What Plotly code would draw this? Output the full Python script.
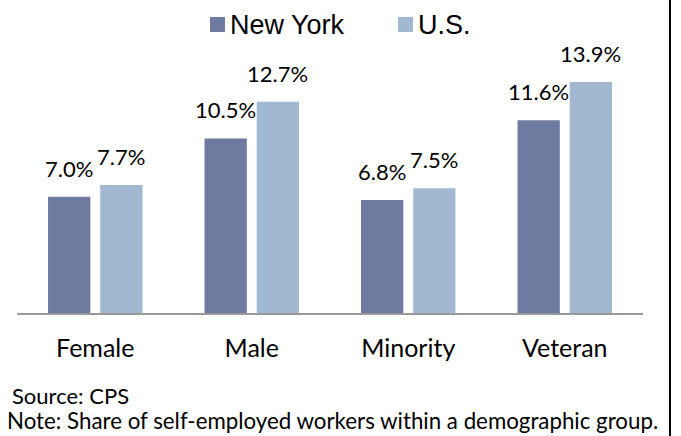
import plotly.graph_objects as go

categories = ["Female", "Male", "Minority", "Veteran"]
new_york = [7.0, 10.5, 6.8, 11.6]
us = [7.7, 12.7, 7.5, 13.9]
series_names = ["New York", "U.S."]
colors = ["#6F7AA1", "#A1B8D0"]
source_text = "Source: CPS"
note_text = "Note: Share of self-employed workers within a demographic group."

BODY_FONT = "Lato, 'Open Sans', sans-serif"
LEGEND_FONT = "'Liberation Sans', Arial, sans-serif"

W, H = 681, 436
ML, MR, MT, MB = 17, 38, 47, 123
plot_h = H - MT - MB
plot_w = W - ML - MR
BAR_OFFSET = 26  # px, half of a bar slot within a group

def px_to_paper_y(py):
    return (H - MB - py) / plot_h

def px_to_paper_x(px):
    return (px - ML) / plot_w

fig = go.Figure()
for name, vals, col, sgn in zip(series_names, [new_york, us], colors, [-1, 1]):
    fig.add_trace(go.Bar(
        x=categories, y=vals, name=name, marker_color=col,
        marker_line_width=0, showlegend=False, hoverinfo="skip",
    ))
    for c, v in zip(categories, vals):
        fig.add_annotation(x=c, y=v, xref="x", yref="y", text=f"{v:.1f}%",
                           xshift=sgn * BAR_OFFSET, yshift=13,
                           xanchor="center", yanchor="bottom", showarrow=False,
                           font=dict(family=BODY_FONT, size=22, color="#000"))

# legend (manual, to match the reference spacing)
legend_items = [(series_names[0], colors[0], 210), (series_names[1], colors[1], 398)]
for name, col, x0 in legend_items:
    fig.add_shape(type="rect", xref="paper", yref="paper",
                  x0=px_to_paper_x(x0), x1=px_to_paper_x(x0 + 15),
                  y0=px_to_paper_y(32), y1=px_to_paper_y(17),
                  fillcolor=col, line_width=0)
    fig.add_annotation(text=name, xref="paper", yref="paper",
                       x=px_to_paper_x(x0 + 18), y=px_to_paper_y(25),
                       xanchor="left", yanchor="middle", showarrow=False,
                       font=dict(family=LEGEND_FONT, size=27, color="#000"))

fig.update_layout(
    width=W, height=H,
    margin=dict(l=ML, r=MR, t=MT, b=MB, autoexpand=False),
    paper_bgcolor="white", plot_bgcolor="white",
    barmode="group", bargap=0.333, bargroupgap=0.19,
    showlegend=False,
    xaxis=dict(showline=True, linecolor="#999999", linewidth=2, automargin=False,
               ticks="", ticklabelstandoff=12,
               tickfont=dict(family=BODY_FONT, size=25, color="#000")),
    yaxis=dict(range=[0, 16], visible=False, showgrid=False, zeroline=False,
               automargin=False),
)

fig.add_annotation(text=source_text, xref="paper", yref="paper",
                   x=px_to_paper_x(10), y=px_to_paper_y(395), xanchor="left", yanchor="middle",
                   showarrow=False, font=dict(family=BODY_FONT, size=22, color="#000"))
fig.add_annotation(text=note_text, xref="paper", yref="paper",
                   x=px_to_paper_x(5), y=px_to_paper_y(421), xanchor="left", yanchor="middle",
                   showarrow=False, font=dict(family=BODY_FONT, size=22.3, color="#000"))

fig.add_shape(type="line", xref="paper", yref="paper",
              x0=px_to_paper_x(670), x1=px_to_paper_x(670),
              y0=px_to_paper_y(0), y1=px_to_paper_y(H),
              line=dict(color="#000", width=2))

fig.write_html("out.html", config={"displayModeBar": False},
               post_script="document.body.style.margin='0';document.body.style.overflow='hidden';")
